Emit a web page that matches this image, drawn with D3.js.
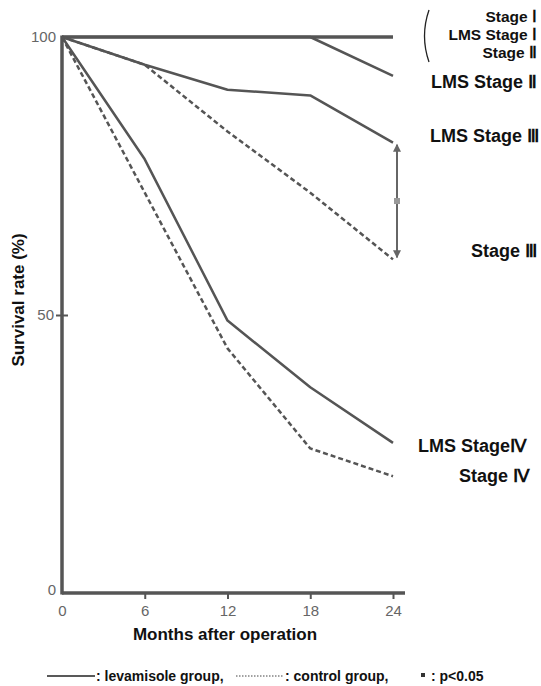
<!DOCTYPE html>
<html>
<head>
<meta charset="utf-8">
<script src="https://cdn.jsdelivr.net/npm/d3@7"></script>
<style>
  body { margin: 0; background: #fff; }
  svg { display: block; }
  .lbl { font-family: "Liberation Sans", Arial, sans-serif; font-weight: bold; fill: #111; }
  .tick text { font-family: "Liberation Sans", Arial, sans-serif; fill: #666; font-size: 15px; }
</style>
</head>
<body>
<div id="chart"></div>
<script>
// survival data
const months = [0, 6, 12, 18, 24];
const stageI_II = [100, 100, 100, 100, 100];
const lmsStageII = [100, 100, 100, 100, 93];
const lmsStageIII = [100, 95, 90.5, 89.5, 81];
const ctrlStageIII = [100, 95, 83, 72, 60];
const lmsStageIV = [100, 78, 49, 37, 27];
const ctrlStageIV = [100, 72, 44, 26, 21];
const yTicks = [0, 50, 100];

const width = 541, height = 686;
const stroke = "#555";

const svg = d3.select("#chart").append("svg")
  .attr("width", width)
  .attr("height", height);

const x = d3.scaleLinear().domain([0, 24]).range([62, 393]);
const y = d3.scaleLinear().domain([0, 100]).range([593, 37]);

// axes
const yAxis = svg.append("g")
  .attr("transform", `translate(${x(0)},0)`)
  .call(d3.axisLeft(y).tickValues(yTicks).tickSize(6).tickSizeOuter(0).tickPadding(4));
yAxis.select(".domain").remove();
yAxis.selectAll(".tick line").attr("x2", 6).attr("x1", -6).attr("stroke", stroke).attr("stroke-width", 2);
yAxis.selectAll(".tick").filter(d => d !== 50).select("line").remove();
yAxis.selectAll(".tick text").attr("x", d => d === 50 ? -8 : -6).attr("dy", d => d === 0 ? "0.1em" : "0.32em");

const xAxis = svg.append("g")
  .attr("transform", `translate(0,${y(0)})`)
  .call(d3.axisBottom(x).tickValues(months).tickSize(6).tickSizeOuter(0).tickPadding(6));
xAxis.select(".domain").remove();
xAxis.selectAll(".tick line").attr("stroke", stroke).attr("stroke-width", 2);
xAxis.selectAll(".tick").filter(d => d === 0).select("line").remove();

svg.append("line")
  .attr("x1", x(0)).attr("x2", x(0))
  .attr("y1", y(100) - 1.5).attr("y2", y(0) + 1.5)
  .attr("stroke", stroke).attr("stroke-width", 3.5);
svg.append("line")
  .attr("x1", x(0)).attr("x2", x(24) + 12)
  .attr("y1", y(0)).attr("y2", y(0))
  .attr("stroke", stroke).attr("stroke-width", 3.5);

// survival curves
const line = d3.line()
  .x((d, i) => x(months[i]))
  .y(d => y(d));

const curves = [
  { values: stageI_II, dashed: false, w: 3.5 },
  { values: lmsStageII, dashed: false, w: 2.5 },
  { values: lmsStageIII, dashed: false, w: 2.5 },
  { values: ctrlStageIII, dashed: true, w: 2.5 },
  { values: lmsStageIV, dashed: false, w: 2.5 },
  { values: ctrlStageIV, dashed: true, w: 2.5 }
];

svg.selectAll("path.curve")
  .data(curves)
  .enter()
  .append("path")
  .classed("curve", true)
  .attr("d", d => line(d.values))
  .attr("fill", "none")
  .attr("stroke", stroke)
  .attr("stroke-width", d => d.w)
  .attr("stroke-linejoin", "round")
  .attr("stroke-dasharray", d => d.dashed ? "5,3" : null);

// significance arrow between stage III curves
const defs = svg.append("defs");
defs.append("marker")
  .attr("id", "ah")
  .attr("viewBox", "0 0 10 10")
  .attr("refX", 9).attr("refY", 5)
  .attr("markerWidth", 6).attr("markerHeight", 4)
  .attr("orient", "auto-start-reverse")
  .append("path")
  .attr("d", "M0,0L10,5L0,10Z")
  .attr("fill", "#666");

const ax = x(24) + 4;
svg.append("line")
  .attr("x1", ax).attr("x2", ax)
  .attr("y1", y(lmsStageIII[4]) + 2).attr("y2", y(ctrlStageIII[4]) - 2)
  .attr("stroke", "#666").attr("stroke-width", 2)
  .attr("marker-start", "url(#ah)")
  .attr("marker-end", "url(#ah)");
svg.append("rect")
  .attr("x", ax - 3).attr("y", y((lmsStageIII[4] + ctrlStageIII[4]) / 2) - 3)
  .attr("width", 6).attr("height", 6)
  .attr("fill", "#999");

// curve labels
const labels = [
  { t: "Stage Ⅰ", x: 537, y: 22, s: 15.5 },
  { t: "LMS Stage Ⅰ", x: 537, y: 40, s: 15.5 },
  { t: "Stage Ⅱ", x: 537, y: 58, s: 15.5 },
  { t: "LMS Stage Ⅱ", x: 537, y: 88, s: 18 },
  { t: "LMS Stage Ⅲ", x: 539, y: 142, s: 18 },
  { t: "Stage Ⅲ", x: 537, y: 257, s: 18 },
  { t: "LMS StageⅣ", x: 527, y: 452, s: 18 },
  { t: "Stage Ⅳ", x: 530, y: 482, s: 18 }
];
svg.selectAll("text.curve-label")
  .data(labels)
  .enter()
  .append("text")
  .attr("class", "lbl curve-label")
  .attr("x", d => d.x)
  .attr("y", d => d.y)
  .attr("text-anchor", "end")
  .style("font-size", d => d.s + "px")
  .text(d => d.t);

// bracket for the top group
svg.append("path")
  .attr("d", "M429,10 Q420,36 429,62")
  .attr("fill", "none")
  .attr("stroke", "#222")
  .attr("stroke-width", 1.3);

// axis titles
svg.append("text")
  .attr("class", "lbl")
  .attr("transform", "translate(24,300) rotate(-90)")
  .attr("text-anchor", "middle")
  .style("font-size", "17px")
  .text("Survival rate  (%)");

svg.append("text")
  .attr("class", "lbl")
  .attr("x", 225).attr("y", 640)
  .attr("text-anchor", "middle")
  .style("font-size", "17px")
  .text("Months after operation");

// legend
const leg = svg.append("g").attr("transform", "translate(0,681)");
leg.append("line").attr("x1", 47).attr("x2", 95).attr("y1", -5).attr("y2", -5)
  .attr("stroke", "#222").attr("stroke-width", 1.5);
leg.append("text").attr("class", "lbl").attr("x", 96).attr("y", 0)
  .style("font-size", "14px").text(": levamisole group,");
leg.append("line").attr("x1", 236).attr("x2", 283).attr("y1", -5).attr("y2", -5)
  .attr("stroke", "#444").attr("stroke-width", 1).attr("stroke-dasharray", "1.5,1.5");
leg.append("text").attr("class", "lbl").attr("x", 285).attr("y", 0)
  .style("font-size", "14px").text(": control group,");
leg.append("rect").attr("x", 421).attr("y", -8).attr("width", 4).attr("height", 4).attr("fill", "#333");
leg.append("text").attr("class", "lbl").attr("x", 431).attr("y", 0)
  .style("font-size", "14px").text(": p<0.05");
</script>
</body>
</html>
